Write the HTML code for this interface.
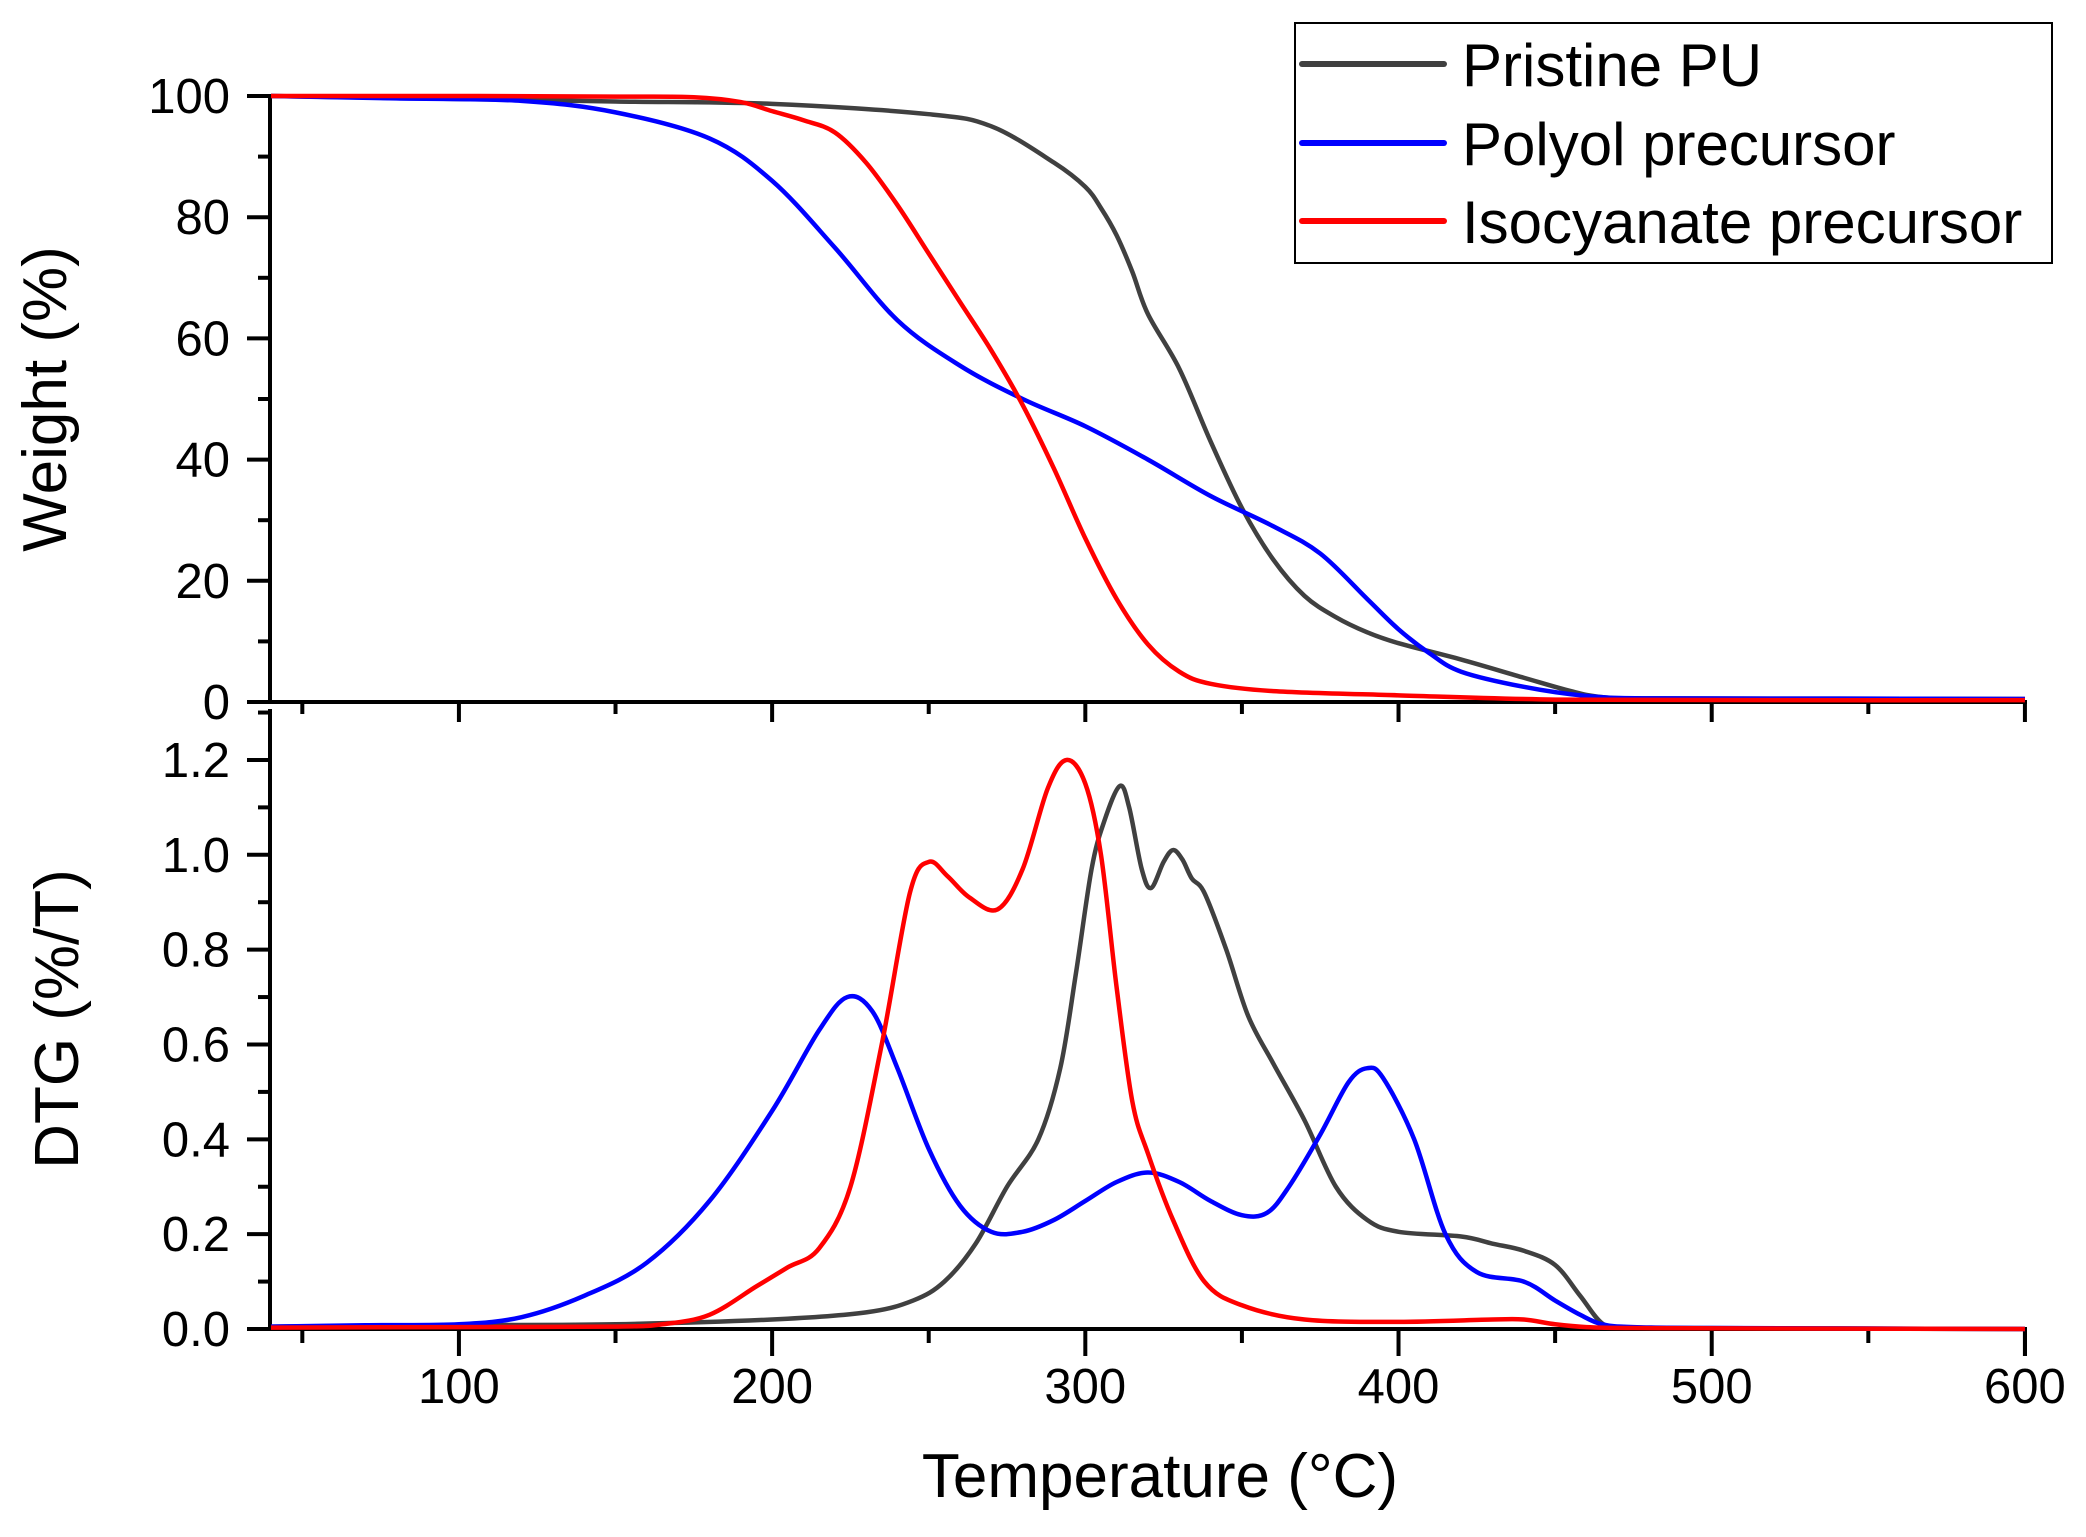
<!DOCTYPE html>
<html><head><meta charset="utf-8"><style>
html,body{margin:0;padding:0;background:#fff;}
svg{display:block;font-family:"Liberation Sans",Arial,sans-serif;}
</style></head><body>
<svg id="s" width="2086" height="1537" viewBox="0 0 2086 1537" xmlns="http://www.w3.org/2000/svg">
<rect width="2086" height="1537" fill="#fff"/>
<g id="axes" stroke="#000" stroke-width="4" fill="none"></g>
<g id="curves" fill="none" stroke-width="4.5" stroke-linejoin="round"></g>
<g id="labels" font-size="49" fill="#000"></g>
<text x="1160" y="1497" font-size="62" text-anchor="middle">Temperature (°C)</text>
<text transform="translate(66,399) rotate(-90)" font-size="62" text-anchor="middle">Weight (%)</text>
<text transform="translate(78,1019) rotate(-90)" font-size="62" text-anchor="middle">DTG (%/T)</text>
<rect x="1295" y="23" width="757" height="240" fill="#fff" stroke="#000" stroke-width="2"/>
<line x1="1302" y1="64" x2="1444" y2="64" stroke="#404040" stroke-width="6" stroke-linecap="round"/>
<line x1="1302" y1="143" x2="1444" y2="143" stroke="#0000ff" stroke-width="6" stroke-linecap="round"/>
<line x1="1302" y1="221" x2="1444" y2="221" stroke="#ff0000" stroke-width="6" stroke-linecap="round"/>
<text x="1462" y="86" font-size="60">Pristine PU</text>
<text x="1462" y="165" font-size="60">Polyol precursor</text>
<text x="1462" y="243" font-size="60">Isocyanate precursor</text>
</svg>
<script>
const NS="http://www.w3.org/2000/svg";
const X=t=>271+(t-40)*3.132;
const YT=w=>702-6.06*w;
const YB=d=>1329-474.2*d;
function el(p,tag,a){const e=document.createElementNS(NS,tag);for(const k in a)e.setAttribute(k,a[k]);p.appendChild(e);return e;}
const ax=document.getElementById('axes'), lb=document.getElementById('labels'), cv=document.getElementById('curves');
el(ax,'line',{x1:270,y1:YT(100)-2,x2:270,y2:702});
el(ax,'line',{x1:247,y1:702,x2:2027,y2:702});
for(let v=0;v<=100;v+=10){const y=YT(v);el(ax,'line',{x1:v%20==0?247:258,y1:y,x2:270,y2:y});
 if(v%20==0){const t=el(lb,'text',{x:230,y:y+17,'text-anchor':'end'});t.textContent=v;}}
for(let t=50;t<=600;t+=50){el(ax,'line',{x1:X(t),y1:702,x2:X(t),y2:t%100==0?722:714});}
el(ax,'line',{x1:270,y1:709,x2:270,y2:1331});
el(ax,'line',{x1:247,y1:1329,x2:2027,y2:1329});
el(ax,'line',{x1:2025,y1:1329,x2:2025,y2:1356});
for(let i=0;i<=13;i++){const v=i/10,y=YB(v);if(y<712)continue;el(ax,'line',{x1:i%2==0?247:258,y1:y,x2:270,y2:y});
 if(i%2==0){const t=el(lb,'text',{x:230,y:y+17,'text-anchor':'end'});t.textContent=v.toFixed(1);}}
for(let t=50;t<=600;t+=50){el(ax,'line',{x1:X(t),y1:1329,x2:X(t),y2:t%100==0?1356:1343});
 if(t%100==0){const tx=el(lb,'text',{x:X(t),y:1403,'text-anchor':'middle'});tx.textContent=t;}}
function path(pts,Y,color){
 const P=pts.map(p=>[X(p[0]),Y(p[1])]);let d='M'+P[0][0]+','+P[0][1];
 for(let i=0;i<P.length-1;i++){const p0=P[i-1]||P[i],p1=P[i],p2=P[i+1],p3=P[i+2]||P[i+1];
  const c1=[p1[0]+(p2[0]-p0[0])/6,p1[1]+(p2[1]-p0[1])/6],c2=[p2[0]-(p3[0]-p1[0])/6,p2[1]-(p3[1]-p1[1])/6];
  d+=` C${c1[0]},${c1[1]} ${c2[0]},${c2[1]} ${p2[0]},${p2[1]}`;}
 el(cv,'path',{d:d,stroke:color});}
path([[40,100],[100,99.5],[150,99.1],[200,98.7],[250,97],[270,95],[290,89],[300,85],[305,81.5],[310,77],[315,71],[320,64],[330,55],[340,43],[350,32],[360,23.5],[370,17.5],[380,14],[390,11.5],[400,9.7],[420,7],[440,4],[455,1.8],[465,0.8],[480,0.6],[540,0.55],[600,0.5]],YT,'#404040');
path([[40,100],[80,99.6],[120,99.2],[150,97.3],[180,93],[200,86],[220,75],[240,63],[260,55.5],[280,50],[300,45.5],[320,40],[340,34],[360,29],[375,24.5],[390,17],[400,12],[410,8],[420,5],[440,2.5],[460,1],[480,0.6],[540,0.55],[600,0.5]],YT,'#0000ff');
path([[40,100],[100,100],[150,99.9],[175,99.8],[190,99],[200,97.5],[210,96],[220,94],[230,89],[240,82],[250,74],[260,66],[270,58],[280,49],[290,38.5],[300,27],[310,17],[320,9.5],[330,5],[340,3],[360,1.8],[400,1.1],[450,0.4],[520,0.3],[600,0.3]],YT,'#ff0000');
path([[40,0.005],[100,0.008],[150,0.01],[200,0.02],[230,0.035],[245,0.06],[255,0.1],[265,0.18],[275,0.3],[285,0.4],[292,0.55],[297,0.75],[302,0.97],[306,1.07],[311,1.145],[314,1.1],[318,0.97],[321,0.93],[325,0.985],[328,1.01],[331,0.99],[334,0.95],[338,0.92],[345,0.8],[352,0.66],[360,0.56],[370,0.44],[380,0.3],[390,0.23],[400,0.205],[420,0.195],[430,0.18],[440,0.165],[450,0.135],[458,0.07],[465,0.012],[472,0.004],[490,0.002],[540,0.001],[600,0]],YB,'#404040');
path([[40,0.005],[70,0.008],[100,0.01],[120,0.025],[140,0.07],[160,0.14],[180,0.27],[200,0.46],[215,0.63],[224,0.7],[232,0.67],[240,0.55],[250,0.38],[260,0.26],[270,0.205],[280,0.205],[290,0.23],[300,0.27],[310,0.31],[320,0.33],[330,0.31],[340,0.27],[350,0.24],[358,0.245],[365,0.3],[375,0.41],[384,0.52],[390,0.55],[395,0.53],[405,0.4],[415,0.2],[425,0.12],[440,0.1],[450,0.06],[458,0.03],[465,0.01],[475,0.004],[500,0.002],[550,0.001],[600,0]],YB,'#0000ff');
path([[40,0.003],[100,0.004],[150,0.005],[165,0.01],[180,0.03],[195,0.09],[205,0.13],[215,0.17],[225,0.3],[235,0.6],[244,0.92],[250,0.985],[256,0.955],[263,0.91],[272,0.885],[280,0.97],[288,1.14],[294,1.2],[300,1.15],[305,1.0],[310,0.72],[315,0.48],[320,0.37],[328,0.23],[338,0.1],[350,0.05],[370,0.02],[400,0.015],[430,0.02],[440,0.02],[450,0.01],[460,0.004],[475,0.002],[520,0.001],[600,0]],YB,'#ff0000');
</script>
</body></html>
